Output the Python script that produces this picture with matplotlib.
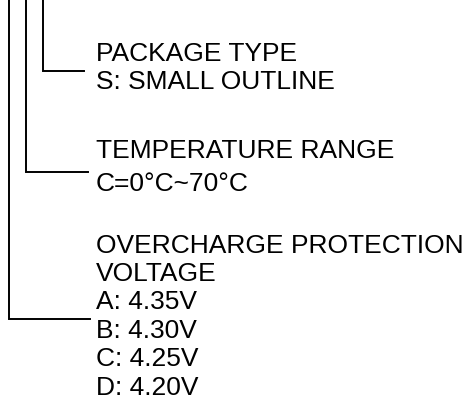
import matplotlib
matplotlib.use('Agg')
from matplotlib import pyplot as plt

# connector lines: x of vertical, y of the elbow, x where the horizontal ends
line_x = [43, 26, 9]
elbow_y = [71, 172, 319]
line_end = [84, 88, 90]

# text blocks (one line each) and their baselines
labels = ['PACKAGE TYPE', 'S: SMALL OUTLINE',
          'TEMPERATURE RANGE', 'C=0\u00b0C~70\u00b0C',
          'OVERCHARGE PROTECTION', 'VOLTAGE',
          'A: 4.35V', 'B: 4.30V', 'C: 4.25V', 'D: 4.20V']
label_y = [61, 89, 158, 191, 253, 281, 309, 338, 366, 395]
text_x = 96

fig = plt.figure(figsize=(4.71, 4.11), dpi=100)
ax = fig.add_axes([0, 0, 1, 1])
ax.set_xlim(0, 471)
ax.set_ylim(411, 0)
ax.axis('off')

for x, y, x2 in zip(line_x, elbow_y, line_end):
    ax.plot([x, x, x2], [0, y, y], color='black', lw=1.4, solid_joinstyle='miter')

for s, y in zip(labels, label_y):
    ax.text(text_x, y, s, fontsize=19, family='Liberation Sans', va='baseline', ha='left', color='black')

fig.savefig('out.png', dpi=100)
